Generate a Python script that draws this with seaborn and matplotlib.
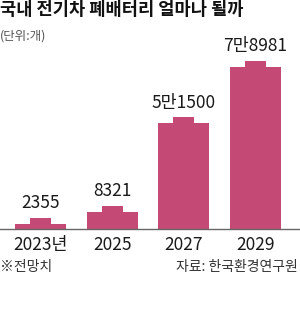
import matplotlib
matplotlib.use("Agg")
import matplotlib.pyplot as plt
import seaborn as sns
import pandas as pd

years = ["2023년", "2025", "2027", "2029"]
counts = [2355, 8321, 51500, 78981]
labels = ["2355", "8321", "5만1500", "7만8981"]

sns.set_style("white")
plt.rcParams['font.family'] = ['Noto Sans CJK KR', 'DejaVu Sans']

bar_color = "#C44A75"
df = pd.DataFrame({"year": years, "count": counts})

fig = plt.figure(figsize=(3.0, 3.23), dpi=100)
W, H = 300, 323
# axes: full width, baseline at y=229px, top at y=30px
ax = fig.add_axes([0, (H - 229) / H, 1, (229 - 30) / H])

sns.barplot(data=df, x="year", y="count", color=bar_color, width=0.71,
            saturation=1, linewidth=0, edgecolor=bar_color, ax=ax)

# battery terminal caps on top of each bar
cap_h = 3000
ax.bar(range(len(counts)), [cap_h] * len(counts), bottom=counts,
       width=0.29, color=bar_color, linewidth=0, edgecolor=bar_color)

for i, (v, lab) in enumerate(zip(counts, labels)):
    ax.annotate(lab, (i, v + cap_h), xytext=(0, 4), textcoords="offset points",
                ha="center", va="bottom", fontsize=12.5, color="#1a1a1a")

ax.set_xlim(-0.565, 3.62)
ax.set_ylim(0, 97000)
ax.set_xlabel("")
ax.set_ylabel("")
ax.set_yticks([])
ax.tick_params(axis="x", length=0, pad=5, labelsize=12.5, labelcolor="#1a1a1a")
for s in ["top", "right", "left"]:
    ax.spines[s].set_visible(False)
ax.spines["bottom"].set_color("#666666")
ax.spines["bottom"].set_linewidth(1.0)

fig.text(0.0, 1 - 10 / H, "국내 전기차 폐배터리 얼마나 될까", fontsize=12.7,
         fontweight="bold", ha="left", va="center", color="#111111")
fig.text(0.0, 1 - 36 / H, "(단위:개)", fontsize=9, ha="left", va="center",
         color="#555555")
fig.text(0.0, 1 - 267 / H, "※전망치", fontsize=10, ha="left", va="center",
         color="#333333")
fig.text(1 - 2 / W, 1 - 267 / H, "자료: 한국환경연구원", fontsize=10, ha="right",
         va="center", color="#333333")

fig.savefig("out.png", dpi=100, facecolor="white")
